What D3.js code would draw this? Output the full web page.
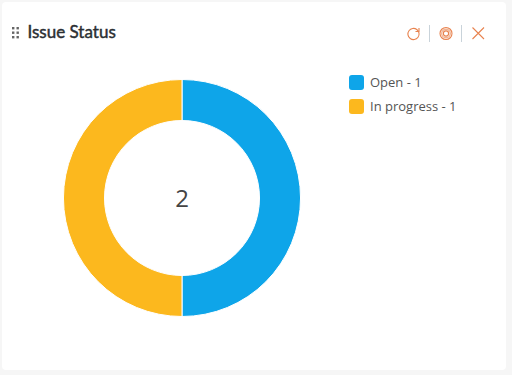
<!DOCTYPE html>
<html>
<head>
<meta charset="utf-8">
<script src="https://cdn.jsdelivr.net/npm/d3@7"></script>
<style>
  html, body { margin: 0; padding: 0; background: #f6f6f6; overflow: hidden; }
  text { font-family: "Open Sans", sans-serif; }
</style>
</head>
<body>
<script>
const categories = ['Open', 'In progress'];
const values = [1, 1];
const colors = ['#0ea5e9', '#fcb81e'];
const title = 'Issue Status';

const width = 512;
const height = 375;
const orange = '#e8834f';

const svg = d3.select('body').append('svg')
  .attr('width', width).attr('height', height)
  .style('display', 'block');

// card
svg.append('rect')
  .attr('x', 2).attr('y', 2)
  .attr('width', 504).attr('height', 368)
  .attr('rx', 4)
  .attr('fill', '#fff');

// drag handle
const dots = svg.append('g').attr('fill', '#666');
d3.range(3).forEach((row) => {
  d3.range(2).forEach((col) => {
    dots.append('rect')
      .attr('x', 12 + col * 4.5).attr('y', 27 + row * 4.5)
      .attr('width', 2.4).attr('height', 2.4);
  });
});

svg.append('text')
  .attr('x', 27.5).attr('y', 37.5)
  .style('font-family', 'Lato, sans-serif')
  .attr('font-size', 17)
  .attr('font-weight', 400)
  .attr('fill', '#2b2f33')
  .attr('stroke', '#2b2f33')
  .attr('stroke-width', 0.45)
  .text(title);

// toolbar icons
const icons = svg.append('g')
  .attr('fill', 'none')
  .attr('stroke', orange)
  .attr('stroke-width', 1.1);
const refresh = d3.path();
refresh.arc(413.5, 34, 5.6, -Math.PI * 0.3, Math.PI * 1.75);
icons.append('path').attr('d', refresh.toString());
icons.append('path').attr('d', 'M419 28 L419 31.5 L415.5 31.5');
icons.append('circle').attr('cx', 446).attr('cy', 33.5).attr('r', 6);
icons.append('circle').attr('cx', 446).attr('cy', 33.5).attr('r', 2.6);
icons.append('circle').attr('cx', 446).attr('cy', 33.5).attr('r', 4.3)
  .attr('stroke-opacity', 0.6).attr('stroke-width', 1.4);
icons.append('path').attr('d', 'M472.5 27.5 L484 39 M484 27.5 L472.5 39');
svg.append('g').attr('stroke', '#c9d3da').selectAll('line')
  .data([429.5, 461.5])
  .enter().append('line')
  .attr('x1', (d) => d).attr('x2', (d) => d)
  .attr('y1', 25).attr('y2', 42);

// donut
const pie = d3.pie().sort(null).value((d) => d);
const arc = d3.arc().innerRadius(77.5).outerRadius(118.5);
const donut = svg.append('g').attr('transform', 'translate(182,198)');

donut.selectAll('path')
  .data(pie(values))
  .enter().append('path')
  .attr('d', arc)
  .attr('fill', (d, i) => colors[i])
  .attr('stroke', '#fff')
  .attr('stroke-width', 1);

donut.append('text')
  .attr('text-anchor', 'middle')
  .attr('y', 9)
  .attr('font-size', 24)
  .attr('fill', '#444')
  .text(d3.sum(values));

// legend
const legend = svg.selectAll('g.legend')
  .data(categories)
  .enter().append('g')
  .attr('class', 'legend')
  .attr('transform', (d, i) => 'translate(349,' + (75 + i * 24) + ')');

legend.append('rect')
  .attr('width', 15).attr('height', 15).attr('rx', 3)
  .attr('fill', (d, i) => colors[i]);

legend.append('text')
  .attr('x', 21).attr('y', 12)
  .attr('font-size', 13)
  .attr('fill', '#555')
  .text((d, i) => d + ' - ' + values[i]);
</script>
</body>
</html>
